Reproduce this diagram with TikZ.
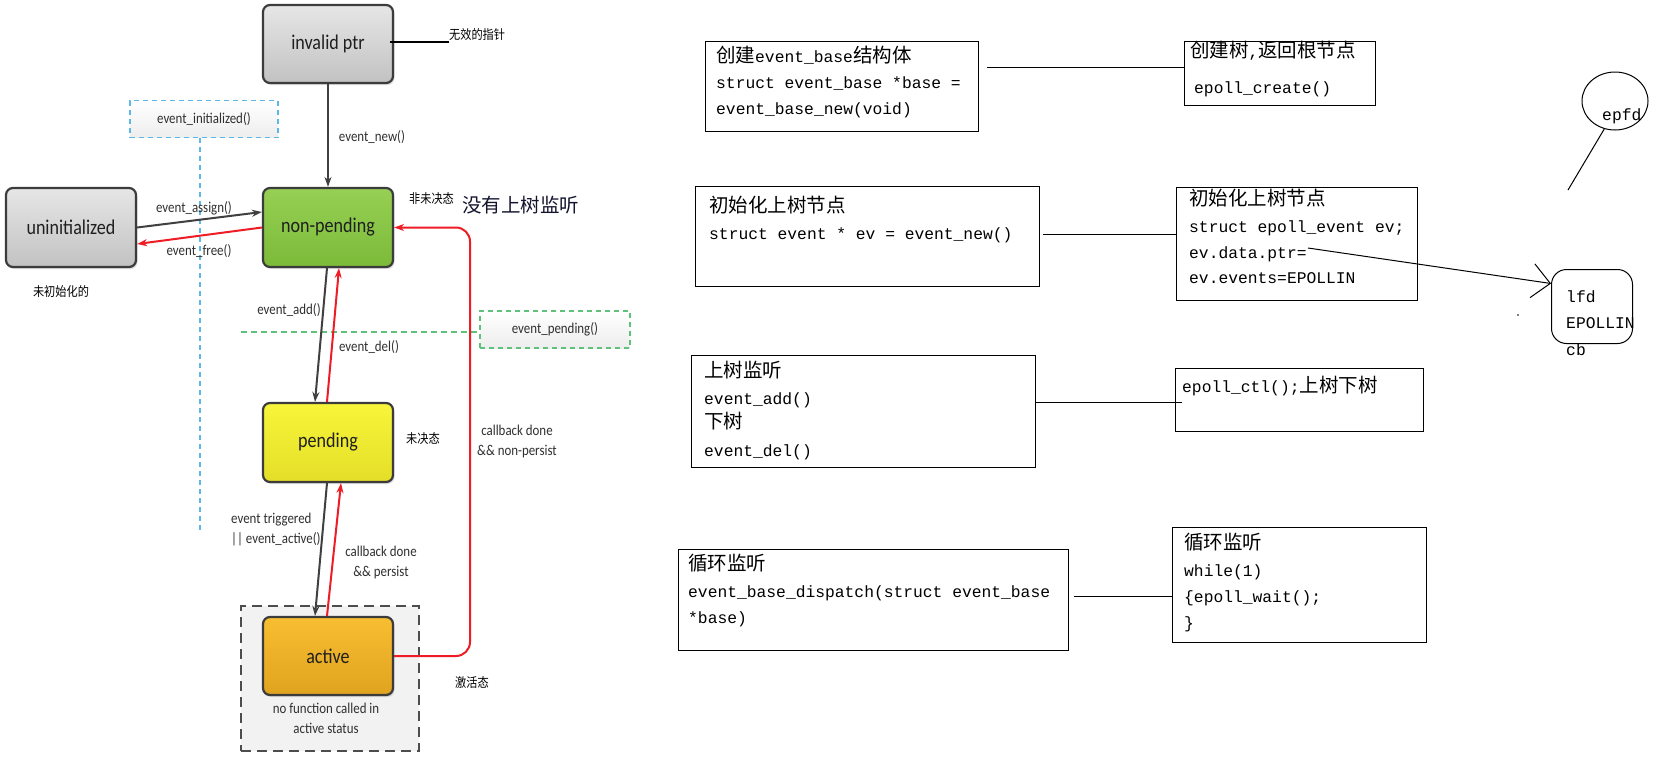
\documentclass[tikz,border=0pt]{standalone}
\usepackage{fontspec}
\usepackage{graphicx}
\usetikzlibrary{arrows.meta,shadows,calc,shapes.geometric}
\newfontfamily\cjk{Noto Sans CJK SC}
\newfontfamily\mono{Liberation Mono}
\newfontfamily\lab{Carlito}
% slightly condensed text for the state diagram
\newcommand\nar[1]{\scalebox{0.86}[1]{#1}}
\newcommand\narc[1]{\scalebox{0.86}[1]{\begin{tabular}{@{}c@{}}#1\end{tabular}}}
\newcommand\narl[1]{\scalebox{0.86}[1]{\begin{tabular}{@{}l@{}}#1\end{tabular}}}
% Chinese run inside a code line
\newcommand\zh[1]{{\cjk\fontsize{19.5}{26}\selectfont #1}}

\definecolor{edgegrey}{HTML}{3C3C3C}
\definecolor{arrowgrey}{HTML}{404040}
\definecolor{flowred}{HTML}{EE1C25}
\definecolor{labgrey}{HTML}{303030}
\definecolor{greyTop}{HTML}{E6E6E6}
\definecolor{greyBot}{HTML}{C2C2C2}
\definecolor{greenTop}{HTML}{96D054}
\definecolor{greenBot}{HTML}{7CBA3A}
\definecolor{yellowTop}{HTML}{F8F53A}
\definecolor{yellowBot}{HTML}{E4DE28}
\definecolor{orangeTop}{HTML}{F8BE32}
\definecolor{orangeBot}{HTML}{E0A31E}
\definecolor{checkblue}{HTML}{5CB8E6}
\definecolor{checkgreen}{HTML}{5EC27C}
\definecolor{zoneline}{HTML}{4D4D4D}
\definecolor{navytext}{HTML}{14142E}

\begin{document}
\begin{tikzpicture}[x=1pt,y=-1pt,
  state/.style={draw=edgegrey, line width=2.2pt, rounded corners=7pt,
    minimum width=130pt, minimum height=79pt, inner sep=0pt,
    font=\lab\fontsize{21}{24}\selectfont, text=black!88,
    drop shadow={shadow xshift=1.5pt, shadow yshift=-2pt, opacity=0.25}},
  darr/.style={draw=arrowgrey, line width=2pt, -{Stealth[length=10pt,width=7pt]}},
  rarr/.style={draw=flowred, line width=2pt, -{Stealth[length=10pt,width=7pt]}},
  lbl/.style={font=\lab\fontsize{15}{20}\selectfont, text=labgrey, inner sep=0pt},
  note/.style={font=\cjk\fontsize{13}{15}\selectfont, inner sep=0pt},
  check/.style={dash pattern=on 5pt off 4pt, line width=1.5pt,
    top color=white, bottom color=black!7, minimum height=37pt, inner sep=0pt,
    font=\lab\fontsize{15}{20}\selectfont, text=labgrey},
  cbox/.style={draw, line width=1.1pt, anchor=north west, inner sep=0pt},
  code/.style={anchor=base west, inner sep=0pt, font=\mono\fontsize{16.3}{26}\selectfont},
  link/.style={line width=1.1pt},
]
\useasboundingbox (0,0) rectangle (1675,763);
\fill[white] (0,0) rectangle (1675,763);

%% ---------------- libevent event states ----------------
% frame round the active state
\node[draw=zoneline, line width=2.5pt, dash pattern=on 10pt off 6pt, fill=black!5,
  minimum width=178pt, minimum height=145pt, inner sep=0pt] (zone) at (330,678.5) {};

% query functions
\node[check, draw=checkblue, minimum width=148pt] (qinit) at (204,119) {\nar{event\_initialized()}};
\coordinate (qinitend) at (200,533);
\draw[checkblue, line width=1.5pt, dash pattern=on 5pt off 4pt] ($(qinit.south)+(-4,0)$) -- (qinitend);

\node[check, draw=checkgreen, minimum width=150pt] (qpend) at (555,329.5) {\nar{event\_pending()}};
\coordinate (qpendend) at (241,332);
\draw[checkgreen, line width=1.5pt, dash pattern=on 6pt off 4pt] (qpendend) -- (qpendend -| qpend.west);

% states
\node[state, minimum height=78pt, top color=greyTop, bottom color=greyBot] (invalid) at (328,44) {\nar{invalid ptr}};
\node[state, top color=greyTop, bottom color=greyBot] (uninit) at (71,227.5) {\nar{uninitialized}};
\node[state, top color=greenTop, bottom color=greenBot] (nonpend) at (328,227.5) {\nar{non-pending}};
\node[state, top color=yellowTop, bottom color=yellowBot] (pend) at (328,442.5) {\nar{pending}};
\node[state, minimum height=78pt, top color=orangeTop, bottom color=orangeBot] (active) at (328,656) {\nar{active}};

% transitions
\draw[darr] (invalid.south) -- (nonpend.north);
\draw[darr] (uninit.east) -- ([yshift=15.5pt]nonpend.west);
\draw[rarr] (nonpend.west) -- ([yshift=-16.5pt]uninit.east);
\draw[darr] ($(nonpend.south)+(-1,0)$) -- ($(pend.north)+(-13,0)$);
\draw[rarr] ($(pend.north)+(-1,0)$) -- ($(nonpend.south)+(11,0)$);
\draw[darr] ($(pend.south)+(-1,0)$) -- ($(active.north)+(-13,0)$);
\draw[rarr] ($(active.north)+(-1,0)$) -- ($(pend.south)+(13,0)$);
\coordinate (back) at (470,0);
\draw[rarr, rounded corners=14pt] (active.east) -- (active.east -| back) -- (nonpend.east -| back) -- (nonpend.east);

% transition labels
\node[lbl] (lnew) at (372,137) {\nar{event\_new()}};
\node[lbl] (lassign) at (194,208) {\nar{event\_assign()}};
\node[lbl] (lfree) at (199,251) {\nar{event\_free()}};
\node[lbl] (ladd) at (289,310) {\nar{event\_add()}};
\node[lbl] (ldel) at (369,347) {\nar{event\_del()}};
\node[lbl, anchor=west] (ltrig) at (231,529) {\narl{event triggered\\|| event\_active()}};
\node[lbl] (lpersist) at (381,562) {\narc{callback done\\\&\& persist}};
\node[lbl] (lnonpersist) at (517,441) {\narc{callback done\\\&\& non-persist}};
\node[lbl] (lnofunc) at (326,719) {\narc{no function called in\\active status}};

% Chinese notes
\node[note, anchor=west] (nptr) at (449,35) {\nar{无效的指针}};
\coordinate (nptrfrom) at ($(invalid.east)+(-4,-2)$);
\draw[line width=1.1pt] (nptrfrom) -- (nptrfrom -| nptr.west);
\node[note, anchor=west] (nnonpend) at (409,199) {\nar{非未决态}};
\node[font=\cjk\fontsize{19.5}{22}\selectfont, text=navytext, inner sep=0pt, anchor=west] (nnolisten) at (462,205) {没有上树监听};
\node[note] (nuninit) at (61,292) {\nar{未初始化的}};
\node[note, anchor=west] (npend) at (406,439) {\nar{未决态}};
\node[note, anchor=west] (nactive) at (455,683) {\nar{激活态}};

%% ---------------- libevent calls and their epoll counterparts ----------------
\node[cbox, minimum width=273pt, minimum height=90pt] (A1) at (705,41) {};
\node[code] (A1a) at (716,62) {\zh{创建}event\_base\zh{结构体}};
\node[code] (A1b) at (716,88) {struct event\_base *base =};
\node[code] (A1c) at (716,114) {event\_base\_new(void)};

\node[cbox, minimum width=191pt, minimum height=64pt] (B1) at (1184,41) {};
\node[code] (B1a) at (1190,57) {\zh{创建树},\zh{返回根节点}};
\node[code] (B1b) at (1194,93) {epoll\_create()};

\node[cbox, minimum width=344pt, minimum height=100pt] (A2) at (695,186) {};
\node[code] (A2a) at (709,212) {\zh{初始化上树节点}};
\node[code] (A2b) at (709,239) {struct event * ev = event\_new()};

\node[cbox, minimum width=241pt, minimum height=113pt] (B2) at (1176,187) {};
\node[code] (B2a) at (1189,205) {\zh{初始化上树节点}};
\node[code] (B2b) at (1189,232) {struct epoll\_event ev;};
\node[code] (B2c) at (1189,258) {ev.data.ptr=};
\node[code] (B2d) at (1189,283) {ev.events=EPOLLIN};

\node[cbox, minimum width=344pt, minimum height=112pt] (A3) at (691,355) {};
\node[code] (A3a) at (704,377) {\zh{上树监听}};
\node[code] (A3b) at (704,404) {event\_add()};
\node[code] (A3c) at (704,428) {\zh{下树}};
\node[code] (A3d) at (704,456) {event\_del()};

\node[cbox, minimum width=248pt, minimum height=63pt] (B3) at (1175,368) {};
\node[code] (B3a) at (1182,392) {epoll\_ctl();\zh{上树下树}};

\node[cbox, minimum width=390pt, minimum height=101pt] (A4) at (678,549) {};
\node[code] (A4a) at (688,570) {\zh{循环监听}};
\node[code] (A4b) at (688,597) {event\_base\_dispatch(struct event\_base};
\node[code] (A4c) at (688,623) {*base)};

\node[cbox, minimum width=254pt, minimum height=115pt] (B4) at (1172,527) {};
\node[code] (B4a) at (1184,549) {\zh{循环监听}};
\node[code] (B4b) at (1184,576) {while(1)};
\node[code] (B4c) at (1184,602) {\{epoll\_wait();};
\node[code] (B4d) at (1184,628) {\}};

% pairing lines
\draw[link, shorten <=8pt] ([yshift=19pt]A1.east) -- ([yshift=6pt]B1.west);
\draw[link, shorten <=3pt] ([yshift=2pt]A2.east) -- ([yshift=9.5pt]B2.west);
\draw[link, shorten >=-7pt] ([yshift=9pt]A3.east) -- ([yshift=-2.5pt]B3.west);
\draw[link, shorten <=5pt] ([yshift=3.5pt]A4.east) -- ([yshift=-11.5pt]B4.west);

% epoll tree sketch
\node[draw, ellipse, line width=1pt, minimum width=66pt, minimum height=58pt, inner sep=0pt] (epfd) at (1615,101) {};
\node[code] (epfdt) at (1602,120) {epfd};
\coordinate (epfdend) at (1568,190);
\draw[line width=1pt] (epfd.249) -- (epfdend);

\node[cbox, line width=1pt, rounded corners=15pt, minimum width=81pt, minimum height=74pt] (lfdbox) at (1551,269) {};
\node[code] (lfdt) at (1566,302) {lfd};
\node[code] (lfdev) at (1566,328) {EPOLLIN};
\node[code] (lfdcb) at (1566,355) {cb};
\coordinate (ptrfrom) at (1308,248);
\draw[line width=1pt, -{Straight Barb[length=18pt,width=34pt]}] (ptrfrom) -- ([yshift=23pt]lfdbox.west);
\fill (1518,315) circle (0.9);
\end{tikzpicture}
\end{document}
